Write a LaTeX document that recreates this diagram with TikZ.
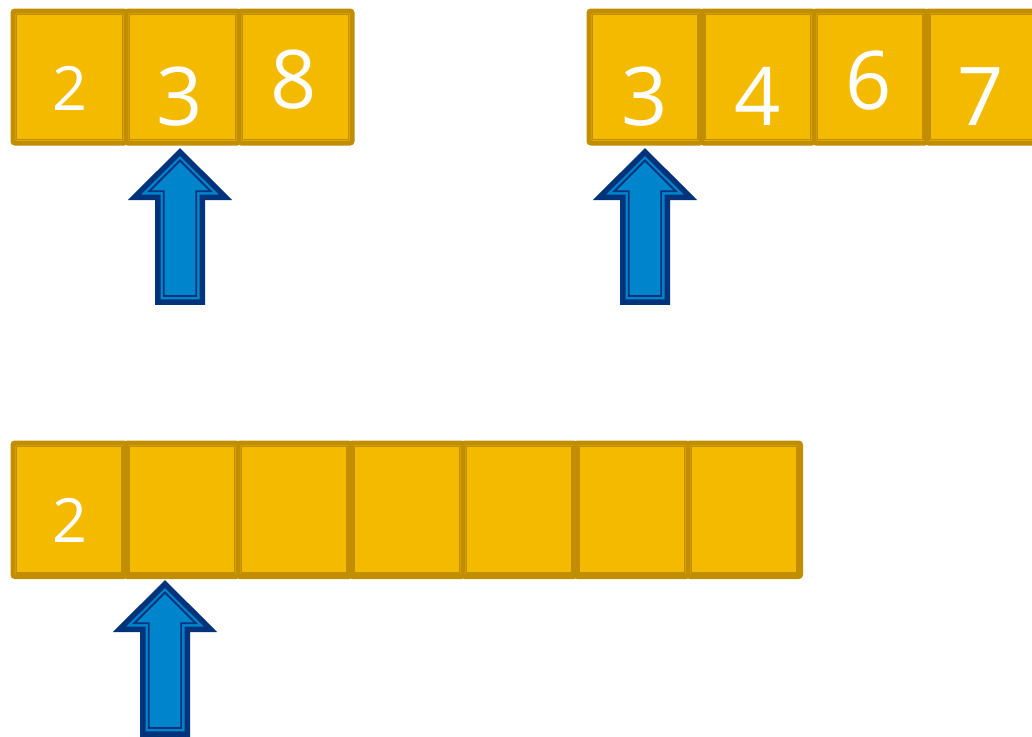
\documentclass[tikz,border=0pt]{standalone}
\usepackage{fontspec}
\setmainfont{Open Sans}
\definecolor{gold}{HTML}{F3BA00}
\definecolor{golddark}{HTML}{C08E00}
\definecolor{barblue}{HTML}{0085CC}
\definecolor{barnavy}{HTML}{00337A}
\tikzset{
  cell/.style={draw=golddark, fill=gold, line width=5pt, rounded corners=2pt,
    minimum width=113pt, minimum height=132pt, inner sep=0pt, anchor=north west},
  cellline/.style={draw=golddark, line width=1.8pt},
  digit/.style={text=white, inner sep=0pt, anchor=base},
  small/.style={font=\fontsize{61}{61}\selectfont},
  big/.style={font=\fontsize{81}{81}\selectfont},
  barout/.style={draw=barnavy, fill=barblue, line width=5.5pt, miter limit=10},
  barin/.style={draw=barnavy, line width=1.8pt},
  upbar/.pic={
    \draw[barout] (0,0) -- (45.5,45.25) -- (22.25,45.25) -- (22.25,150) -- (-22.25,150) -- (-22.25,45.25) -- (-45.5,45.25) -- cycle;
    \draw[barin] (0,8.5) -- (30.75,39.25) -- (16.25,39.25) -- (16.25,144) -- (-16.25,144) -- (-16.25,39.25) -- (-30.75,39.25) -- cycle;
  }
}

\begin{document}
\begin{tikzpicture}[x=1pt,y=-1pt]
\useasboundingbox (0,0) rectangle (1032,736);

\foreach \i in {0,1,2} {
  \node[cell] (a\i) at ({10.5+113*\i},8.5) {};
  \draw[cellline] ([shift={(6,-6)}]a\i.south west) rectangle ([shift={(-6,6)}]a\i.north east);
}
\foreach \i in {0,1,2,3} {
  \node[cell, minimum width=112.5pt] (b\i) at ({586.5+112.5*\i},8.5) {};
  \draw[cellline] ([shift={(6,-6)}]b\i.south west) rectangle ([shift={(-6,6)}]b\i.north east);
}
\foreach \i in {0,...,6} {
  \node[cell, minimum width=112.5pt, minimum height=133.5pt] (c\i) at ({10.5+112.5*\i},440.5) {};
  \draw[cellline] ([shift={(6,-6)}]c\i.south west) rectangle ([shift={(-6,6)}]c\i.north east);
}

\node[digit,small] (na0) at (70,110) {2};
\node[digit,big] (na1) at (180,125) {3};
\node[digit,big] (na2) at (294,108) {8};

\node[digit,big] (nb0) at (645,125) {3};
\node[digit,big] (nb1) at (757.5,125) {4};
\node[digit,big] (nb2) at (869,109) {6};
\node[digit,big] (nb3) at (980.5,125) {7};

\node[digit,small] (nc0) at (70,542) {2};

\pic at (180,152) {upbar};
\pic at (645,152) {upbar};
\pic at (165,584) {upbar};
\end{tikzpicture}
\end{document}
